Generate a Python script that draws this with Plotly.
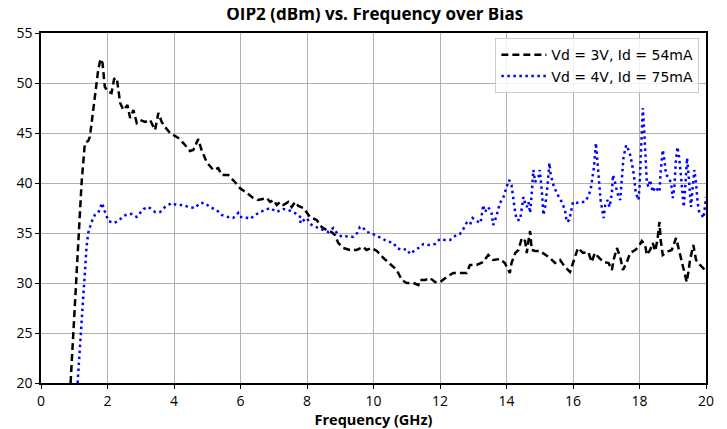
import plotly.graph_objects as go

# Vd = 3V, Id = 54mA (black dashed)
freq_3v = [0.89, 1.05, 1.22, 1.32, 1.42, 1.47, 1.62, 1.72, 1.79, 1.85, 1.92, 2.03, 2.12, 2.2, 2.28,
           2.38, 2.48, 2.6, 2.68, 2.78, 2.88, 2.98, 3.13, 3.28, 3.43, 3.53, 3.63, 3.73, 3.88, 4.13,
           4.28, 4.48, 4.58, 4.73, 4.83, 4.98, 5.18, 5.33, 5.43, 5.63, 5.83, 5.98, 6.19, 6.38, 6.53,
           6.79, 6.89, 6.99, 7.09, 7.19, 7.29, 7.44, 7.54, 7.64, 7.74, 7.89, 8.09, 8.29, 8.44, 8.59,
           8.74, 8.84, 8.94, 9.09, 9.29, 9.49, 9.69, 9.79, 9.94, 10.1, 10.3, 10.55, 10.7, 10.85, 11.0,
           11.2, 11.35, 11.4, 11.55, 11.7, 11.85, 12.0, 12.2, 12.4, 12.6, 12.8, 12.9, 13.1, 13.3, 13.45,
           13.6, 13.8, 13.95, 14.1, 14.15, 14.26, 14.36, 14.46, 14.56, 14.61, 14.66, 14.71, 14.76, 14.86,
           15.0, 15.16, 15.31, 15.46, 15.61, 15.76, 15.91, 16.0, 16.15, 16.3, 16.46, 16.56, 16.66, 16.76,
           16.92, 17.07, 17.17, 17.22, 17.32, 17.42, 17.5, 17.62, 17.72, 17.87, 17.97, 18.07, 18.17,
           18.22, 18.32, 18.4, 18.47, 18.54, 18.6, 18.64, 18.7, 18.82, 18.97, 19.1, 19.17, 19.27, 19.37,
           19.42, 19.47, 19.52, 19.62, 19.7, 19.82, 19.97]
oip2_3v = [20, 30, 40, 44, 44.2, 44.6, 48.6, 51.3, 52.4, 52, 49.6, 49.1, 49, 50.4, 50.5,
           48, 47.3, 47.8, 46.5, 47.3, 46, 46.3, 46.1, 46.3, 45.3, 47, 46.1, 45.6, 45, 44.5,
           44, 43.2, 43.3, 44.4, 43.3, 42.1, 41.3, 41.5, 40.8, 40.8, 40.1, 39.5, 39, 38.5, 38.3,
           38.5, 38.1, 38.3, 37.8, 38.1, 37.8, 38.1, 37.6, 38.1, 37.7, 37.5, 36.6, 36.3, 35.6, 35.3,
           35.1, 34.8, 34, 33.5, 33.3, 33.3, 33.6, 33.3, 33.5, 33.2, 32.5, 31.8, 31.3, 30.3, 30,
           30, 29.8, 30.3, 30.3, 30.5, 30.1, 30.1, 30.6, 31, 31, 31, 31.8, 31.8, 32.1, 32.8,
           32.3, 32.4, 32, 31, 32, 33, 33.3, 34.5, 34.2, 33, 34.2, 35.2, 33.3, 33.2,
           33.2, 32.8, 32.5, 32, 32.3, 31.6, 31.1, 32, 33.5, 33, 33.1, 32.1, 33, 32.6,
           32.1, 32, 31.3, 32.3, 33.5, 32.6, 31.3, 32.1, 33, 33.3, 33.6, 34.2, 33.8,
           32.8, 33.3, 34, 33.2, 34.3, 36.1, 34.2, 32.8, 33.1, 33.3, 34.5, 33.5, 32.3, 30.6,
           30.1, 31.1, 32.3, 33.8, 32.3, 31.8, 31.3]

# Vd = 4V, Id = 75mA (blue dotted)
freq_4v = [1.1, 1.15, 1.22, 1.27, 1.32, 1.37, 1.42, 1.47, 1.52, 1.62, 1.72, 1.79, 1.84, 1.89, 1.95,
           2.03, 2.18, 2.33, 2.48, 2.63, 2.73, 2.88, 2.98, 3.08, 3.23, 3.43, 3.58, 3.73, 3.93, 4.08,
           4.28, 4.43, 4.63, 4.78, 4.93, 5.08, 5.28, 5.43, 5.63, 5.78, 5.93, 5.98, 6.13, 6.29, 6.44,
           6.59, 6.74, 6.89, 7.09, 7.29, 7.44, 7.64, 7.84, 7.79, 7.99, 8.14, 8.34, 8.49, 8.64, 8.79,
           8.94, 9.09, 9.24, 9.39, 9.51, 9.59, 9.67, 9.79, 9.94, 10.09, 10.24, 10.39, 10.6, 10.7, 10.85,
           11.0, 11.1, 11.25, 11.35, 11.5, 11.65, 11.85, 12.0, 12.15, 12.3, 12.45, 12.6, 12.72, 12.8,
           12.9, 12.98, 13.1, 13.22, 13.3, 13.35, 13.45, 13.55, 13.6, 13.7, 13.8, 13.9, 14.0, 14.08,
           14.15, 14.2, 14.26, 14.31, 14.41, 14.46, 14.51, 14.56, 14.61, 14.66, 14.71, 14.76, 14.81,
           14.86, 14.96, 15.0, 15.06, 15.11, 15.16, 15.23, 15.29, 15.33, 15.41, 15.51, 15.66, 15.76,
           15.81, 15.89, 15.96, 16.0, 16.1, 16.2, 16.35, 16.45, 16.53, 16.59, 16.63, 16.69, 16.73,
           16.78, 16.83, 16.88, 16.92, 16.97, 17.04, 17.1, 17.17, 17.2, 17.25, 17.3, 17.37, 17.42,
           17.47, 17.52, 17.6, 17.7, 17.77, 17.83, 17.89, 17.97, 18.0, 18.04, 18.07, 18.1, 18.14,
           18.19, 18.22, 18.27, 18.32, 18.4, 18.47, 18.6, 18.64, 18.7, 18.75, 18.8, 18.87, 18.95,
           19.0, 19.05, 19.09, 19.14, 19.19, 19.24, 19.3, 19.33, 19.37, 19.4, 19.43, 19.47, 19.51,
           19.55, 19.6, 19.65, 19.7, 19.75, 19.8, 19.87, 19.93, 19.97, 20.0]
oip2_4v = [20, 22.6, 26, 28.6, 31.3, 33.6, 35, 35.6, 36.1, 36.8, 37, 37.6, 38, 37.4, 36.8,
           36.2, 36, 36.2, 36.7, 36.9, 36.9, 36.6, 37, 37.4, 37.6, 37.1, 37.1, 37.6, 38, 37.8,
           37.8, 37.6, 37.5, 38, 38, 37.6, 37.3, 36.8, 36.6, 36.5, 37, 36.6, 36.6, 36.4, 36.8,
           37.1, 37.3, 37.5, 37.1, 37.4, 37.3, 37, 36.5, 36, 36.5, 35.8, 35.5, 35.3, 35.1, 35.5,
           34.8, 34.6, 34.7, 34.6, 35, 35.6, 35.6, 35.1, 35, 34.7, 34.5, 34.2, 34, 33.5, 33.3,
           33.4, 32.9, 33.3, 33.5, 33.9, 33.8, 33.9, 34.4, 34.3, 34.3, 34.7, 34.9, 35.5, 36,
           35.8, 36.5, 36.2, 36, 37.8, 37.1, 37.6, 37, 35.8, 36.7, 38, 38.5, 39.6, 40.3,
           39.8, 38.3, 37.1, 36.3, 36.3, 37.5, 38.6, 38, 37.6, 38.1, 37, 39, 41.3,
           40.1, 40.6, 41.3, 39.3, 36.8, 37.6, 39.6, 42, 40.8, 39.8, 39, 38.1, 37.3,
           36.1, 36.3, 37.3, 38.1, 38, 38.1, 38.1, 38.6, 39.3, 40.5, 41.6, 44, 42.6,
           40.3, 38.3, 37.3, 36.5, 37.8, 38.3, 37.6, 39, 40.8, 40.3, 39.5, 38.6, 38.3,
           41, 42.6, 43.8, 43.1, 42, 40.8, 39, 38.3, 39.6, 42.6, 45.6, 47.5, 45.3,
           41.3, 40.1, 39.6, 40.3, 39.1, 39.6, 39.1, 41.3, 43.3, 42.3, 40.8, 40.6, 40,
           38.5, 39.6, 42.1, 43.6, 42.6, 41, 39, 37.6, 39.3, 40.6, 42.5, 41, 39,
           37.6, 39.6, 41.3, 40, 38, 37, 36.8, 36.5, 37.8, 38.6]

x_ticks = [0, 2, 4, 6, 8, 10, 12, 14, 16, 18, 20]
y_ticks = [20, 25, 30, 35, 40, 45, 50, 55]

fig = go.Figure()

fig.add_trace(go.Scatter(
    x=freq_3v, y=oip2_3v, mode="lines",
    name="Vd = 3V, Id = 54mA",
    line=dict(color="black", width=2.5, dash="7px,4px"),
))
fig.add_trace(go.Scatter(
    x=freq_4v, y=oip2_4v, mode="lines",
    name="Vd = 4V, Id = 75mA",
    line=dict(color="blue", width=2.5, dash="2.5px,3.5px"),
))

axis_style = dict(
    showgrid=True, gridcolor="#b0b0b0", gridwidth=1,
    showline=True, linecolor="black", linewidth=1.5, mirror=True,
    ticks="outside", ticklen=4, tickcolor="black",
    tickfont=dict(family="Open Sans", size=14, color="black"),
    zeroline=False, automargin=False,
)

fig.update_xaxes(
    range=[0, 20], tickvals=x_ticks,
    title=dict(text="<b>Frequency (GHz)</b>", font=dict(family="Open Sans", size=14.5, color="black"), standoff=1),
    **axis_style,
)
fig.update_yaxes(range=[20, 55], tickvals=y_ticks, **axis_style)

# the page body adds an 8px margin, so the figure is sized to fit inside it
fig.update_layout(
    width=719, height=421,
    margin=dict(l=33, r=21, t=25, b=46),
    paper_bgcolor="white", plot_bgcolor="white",
    title=dict(text="<b>OIP2 (dBm) vs. Frequency over Bias</b>",
               font=dict(family="Open Sans", size=17, color="black"),
               x=0.51, xanchor="center", y=1, yanchor="top", pad=dict(t=0)),
    legend=dict(x=0.99, xanchor="right", y=0.985, yanchor="top",
                bgcolor="rgba(255,255,255,0.85)", bordercolor="#cccccc", borderwidth=1,
                font=dict(family="DejaVu Sans", size=14, color="black"),
                itemwidth=45, tracegroupgap=0),
    showlegend=True,
)

fig.write_html("out.html")
